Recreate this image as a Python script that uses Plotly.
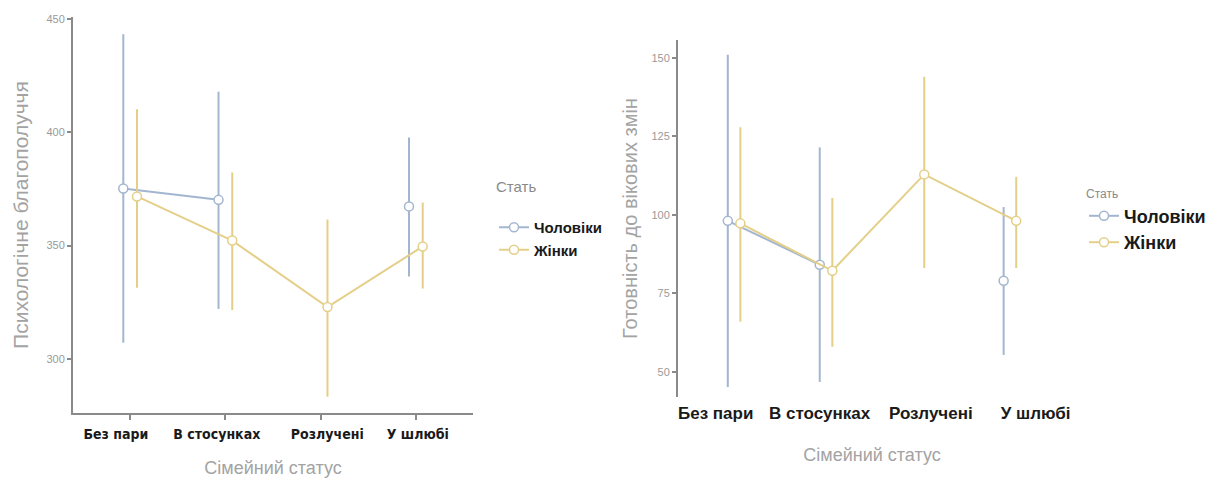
import numpy as np
import plotly.graph_objects as go

# ---------------- data ----------------
categories = ["Без пари", "В стосунках", "Розлучені", "У шлюбі"]
groups = ["Чоловіки", "Жінки"]

# Left panel: Психологічне благополуччя
wb_male_mean = [375.2, 370.2, None, 367.3]
wb_male_low = [307.0, 322.0, None, 336.3]
wb_male_high = [443.4, 418.0, None, 397.8]
wb_fem_mean = [371.7, 352.2, 322.8, 349.6]
wb_fem_low = [331.4, 321.5, 283.2, 331.0]
wb_fem_high = [410.2, 382.3, 361.5, 369.0]

# Right panel: Готовність до вікових змін
rd_male_mean = [98.1, 84.1, None, 79.0]
rd_male_low = [45.2, 46.8, None, 55.4]
rd_male_high = [151.0, 121.5, None, 102.5]
rd_fem_mean = [97.3, 82.2, 112.9, 98.1]
rd_fem_low = [66.0, 58.0, 83.1, 83.1]
rd_fem_high = [127.9, 105.4, 144.0, 112.1]

# ---------------- style ----------------
W, H = 1222, 484
C_MALE = "#a3b6d0"
C_FEM = "#e4cf88"
DODGE = 0.072
# label centres of the category labels (layout only; labels sit slightly off their ticks)
LEFT_LABEL_POS = [0.85, 1.91, 3.07, 4.02]
RIGHT_LABEL_POS = [0.80, 1.93, 3.14, 4.28]
NARROW = "Liberation Sans Narrow, DejaVu Sans Condensed, Roboto Condensed, Liberation Sans, Arial, sans-serif"
SANS = "Liberation Sans, Arial, sans-serif"


def arr(v):
    return np.array([np.nan if a is None else a for a in v], dtype=float)


def add_series(fig, mean, low, high, name, color, offset, xa, ya, legend, show):
    m, lo, hi = arr(mean), arr(low), arr(high)
    xs = np.arange(1, len(categories) + 1) + offset
    fig.add_trace(go.Scatter(
        x=xs, y=m, name=name, mode="lines+markers",
        xaxis=xa, yaxis=ya, legend=legend, showlegend=show,
        line=dict(color=color, width=2),
        marker=dict(symbol="circle", size=9, color="white",
                    line=dict(color=color, width=1.5)),
        error_y=dict(type="data", symmetric=False, array=hi - m,
                     arrayminus=m - lo, color=color, thickness=2, width=0),
        connectgaps=False, cliponaxis=False,
    ))


fig = go.Figure()
add_series(fig, wb_male_mean, wb_male_low, wb_male_high, groups[0], C_MALE, -DODGE, "x", "y", "legend", True)
add_series(fig, wb_fem_mean, wb_fem_low, wb_fem_high, groups[1], C_FEM, DODGE, "x", "y", "legend", True)
add_series(fig, rd_male_mean, rd_male_low, rd_male_high, groups[0], C_MALE, -DODGE * 0.95, "x2", "y2", "legend2", True)
add_series(fig, rd_fem_mean, rd_fem_low, rd_fem_high, groups[1], C_FEM, DODGE * 0.95, "x2", "y2", "legend2", True)

ML, MR, MT, MB = 73, 0, 17, H - 413
PW = W - ML - MR
PH = H - MT - MB


def px_x(p):
    return (p - ML) / PW


def px_y(p):
    return (H - MB - p) / PH


axis_gray = "#8a8a8a"
title_gray = "#a3a3a3"

fig.update_layout(
    width=W, height=H,
    margin=dict(l=ML, r=MR, t=MT, b=MB, autoexpand=False),
    paper_bgcolor="white", plot_bgcolor="white",
    font=dict(family=SANS, color="#222"),
    # left panel: axis with ticks, overlay axis carrying the labels
    xaxis=dict(
        domain=[px_x(73), px_x(473)], range=[0.4, 4.6], automargin=False, anchor="y",
        tickmode="array", tickvals=[1, 2, 3, 4], showticklabels=False,
        showline=True, linecolor=axis_gray, linewidth=2, showgrid=False, zeroline=False,
        ticks="outside", ticklen=5, tickcolor=axis_gray, tickwidth=1.5,
    ),
    xaxis4=dict(
        overlaying="x", anchor="y", range=[0.4, 4.6], automargin=False,
        tickmode="array", tickvals=LEFT_LABEL_POS, ticktext=categories, tickangle=0,
        showline=False, showgrid=False, zeroline=False, ticks="",
        tickfont=dict(family=NARROW, size=14, color="#1a1a1a", weight="bold"),
        ticklabelstandoff=11,
        title=dict(text="Сімейний статус", font=dict(size=18, color=title_gray), standoff=20),
    ),
    yaxis=dict(
        domain=[px_y(413), px_y(17)], range=[276, 451], automargin=False,
        tickvals=[300, 350, 400, 450],
        showline=True, linecolor=axis_gray, linewidth=2, showgrid=False, zeroline=False,
        ticks="outside", ticklen=4, tickcolor=axis_gray, tickwidth=1.5,
        tickfont=dict(size=11, color="#9a9a9a"),
        title=dict(text="Психологічне благополуччя", font=dict(size=21, color=title_gray), standoff=12),
    ),
    xaxis2=dict(
        domain=[px_x(678), px_x(1066)], range=[0.39, 4.61], automargin=False, anchor="y2",
        tickmode="array", tickvals=[1, 2, 3, 4], showticklabels=False,
        showline=False, showgrid=False, zeroline=False, ticks="",
    ),
    xaxis3=dict(
        overlaying="x2", anchor="y2", range=[0.39, 4.61], automargin=False,
        tickmode="array", tickvals=RIGHT_LABEL_POS, ticktext=categories, tickangle=0,
        showline=False, showgrid=False, zeroline=False, ticks="",
        tickfont=dict(family=SANS, size=17, color="#1a1a1a", weight="bold"),
        ticklabelstandoff=4,
        title=dict(text="Сімейний статус", font=dict(size=18, color=title_gray), standoff=26),
    ),
    yaxis2=dict(
        domain=[px_y(397), px_y(40)], range=[42, 155.7], automargin=False, anchor="x2",
        tickvals=[50, 75, 100, 125, 150],
        showline=True, linecolor=axis_gray, linewidth=2, showgrid=False, zeroline=False,
        ticks="outside", ticklen=4, tickcolor=axis_gray, tickwidth=1.5,
        tickfont=dict(size=11, color="#9a9a9a"),
        title=dict(text="Готовність до вікових змін", font=dict(size=20, color=title_gray), standoff=8),
    ),
    legend=dict(
        x=px_x(494), y=px_y(172),
        xanchor="left", yanchor="top", bgcolor="rgba(0,0,0,0)",
        title=dict(text="Стать<br> ", font=dict(size=15, color="#8a8a8a", weight="normal")),
        font=dict(size=15, color="#1a1a1a", weight="bold"),
        tracegroupgap=0, itemwidth=30,
    ),
    legend2=dict(
        x=px_x(1084), y=px_y(182),
        xanchor="left", yanchor="top", bgcolor="rgba(0,0,0,0)",
        title=dict(text="Стать", font=dict(size=12, color="#8a8a8a", weight="normal")),
        font=dict(size=18, color="#1a1a1a", weight="bold"),
        tracegroupgap=0, itemwidth=30,
    ),
)

# invisible anchor traces so the overlay label axes are drawn
fig.add_trace(go.Scatter(x=[None], y=[None], xaxis="x4", yaxis="y", showlegend=False, hoverinfo="skip"))
fig.add_trace(go.Scatter(x=[None], y=[None], xaxis="x3", yaxis="y2", showlegend=False, hoverinfo="skip"))

fig.write_html("out.html", config={"displayModeBar": False},
               post_script="document.body.style.margin='0';")
